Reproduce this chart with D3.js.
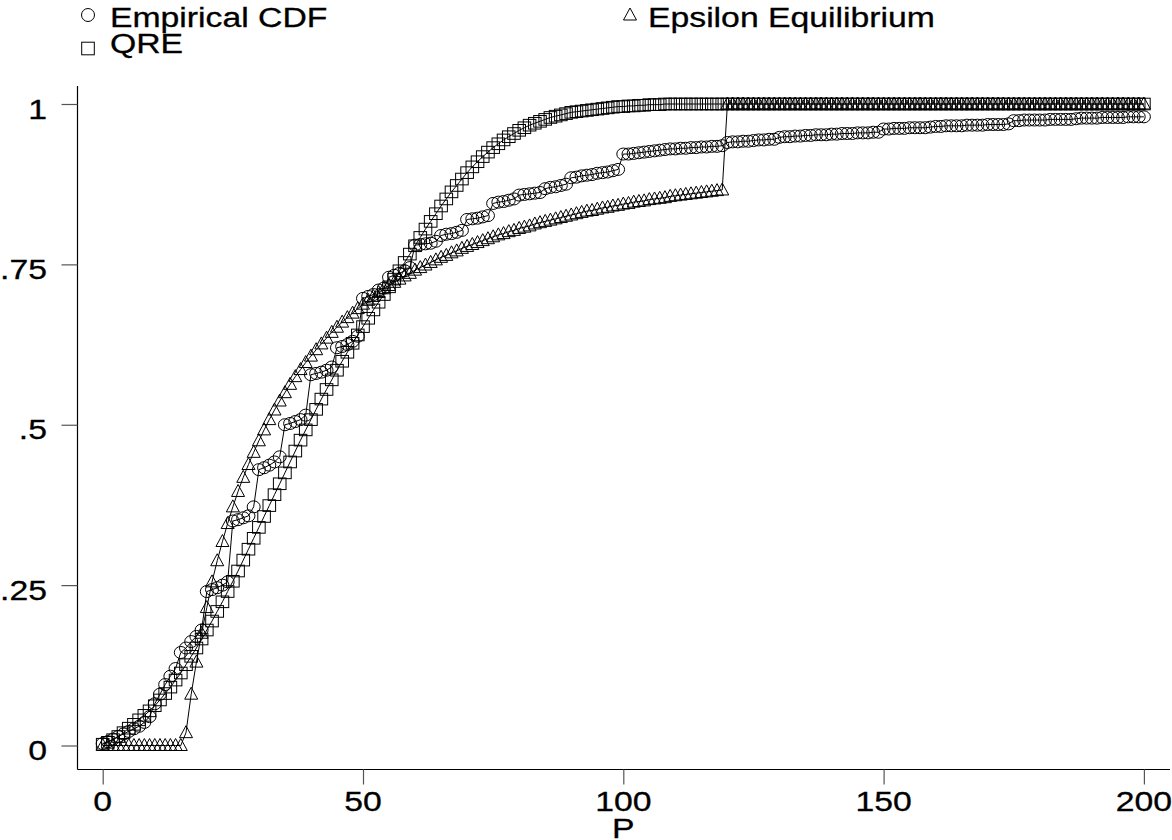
<!DOCTYPE html>
<html>
<head>
<meta charset="utf-8">
<script src="https://cdn.jsdelivr.net/npm/d3@7"></script>
<style>
  html, body { margin: 0; padding: 0; background: #fff; }
  svg { display: block; }
  text { font-family: "Liberation Sans", Arial, Helvetica, sans-serif; fill: #000; stroke: #000; stroke-width: 0.3; }
</style>
</head>
<body>
<svg id="chart" width="1172" height="840"></svg>
<script>
// ---------- data ----------
const prices = d3.range(0, 201); // P = 0 .. 200

const empiricalCDF = [
  0.003, 0.006, 0.010, 0.014, 0.018, 0.022, 0.026, 0.030, 0.036, 0.045,
  0.065, 0.080, 0.095, 0.108, 0.120, 0.145, 0.152, 0.162, 0.170, 0.180,
  0.240, 0.243, 0.246, 0.250, 0.255, 0.350, 0.352, 0.355, 0.358, 0.372,
  0.430, 0.433, 0.437, 0.442, 0.450, 0.500, 0.502, 0.505, 0.508, 0.515,
  0.578, 0.580, 0.582, 0.585, 0.590, 0.620, 0.622, 0.625, 0.630, 0.638,
  0.697, 0.700, 0.703, 0.710, 0.713, 0.730, 0.733, 0.736, 0.740, 0.745,
  0.780, 0.781, 0.782, 0.783, 0.786, 0.795, 0.797, 0.798, 0.800, 0.803,
  0.820, 0.821, 0.822, 0.824, 0.826, 0.845, 0.847, 0.848, 0.850, 0.852,
  0.858, 0.859, 0.860, 0.861, 0.862, 0.868, 0.870, 0.871, 0.873, 0.875,
  0.885, 0.886, 0.888, 0.889, 0.890, 0.892, 0.893, 0.894, 0.896, 0.898,
  0.922, 0.922, 0.923, 0.924, 0.925, 0.926, 0.927, 0.928, 0.929, 0.930,
  0.930, 0.931, 0.931, 0.932, 0.932, 0.933, 0.933, 0.934, 0.934, 0.935,
  0.940, 0.941, 0.941, 0.942, 0.942, 0.943, 0.944, 0.944, 0.945, 0.945,
  0.948, 0.949, 0.949, 0.950, 0.950, 0.951, 0.951, 0.952, 0.952, 0.952,
  0.953, 0.953, 0.954, 0.954, 0.954, 0.955, 0.955, 0.955, 0.956, 0.956,
  0.961, 0.961, 0.962, 0.962, 0.962, 0.963, 0.963, 0.963, 0.963, 0.964,
  0.965, 0.965, 0.966, 0.966, 0.966, 0.966, 0.967, 0.967, 0.967, 0.967,
  0.968, 0.968, 0.968, 0.968, 0.969, 0.974, 0.974, 0.975, 0.975, 0.975,
  0.975, 0.975, 0.976, 0.976, 0.976, 0.976, 0.976, 0.977, 0.978, 0.978,
  0.978, 0.978, 0.979, 0.979, 0.979, 0.979, 0.979, 0.980, 0.980, 0.980,
  0.980
];

const qre = [
  0.002, 0.005, 0.009, 0.014, 0.020, 0.027, 0.033, 0.040, 0.047, 0.054,
  0.062, 0.071, 0.081, 0.091, 0.102, 0.113, 0.126, 0.139, 0.152, 0.166,
  0.180, 0.194, 0.209, 0.224, 0.240, 0.256, 0.272, 0.289, 0.306, 0.323,
  0.340, 0.357, 0.374, 0.391, 0.408, 0.425, 0.442, 0.459, 0.476, 0.492,
  0.508, 0.524, 0.540, 0.555, 0.570, 0.585, 0.599, 0.613, 0.627, 0.640,
  0.653, 0.666, 0.679, 0.691, 0.703, 0.715, 0.727, 0.740, 0.753, 0.766,
  0.779, 0.792, 0.805, 0.817, 0.829, 0.841, 0.852, 0.863, 0.873, 0.883,
  0.893, 0.902, 0.910, 0.918, 0.925, 0.932, 0.938, 0.944, 0.949, 0.954,
  0.959, 0.963, 0.967, 0.970, 0.973, 0.976, 0.979, 0.981, 0.983, 0.985,
  0.987, 0.988, 0.989, 0.990, 0.991, 0.992, 0.993, 0.994, 0.995, 0.996,
  0.996, 0.997, 0.997, 0.998, 0.998, 0.999, 0.999, 0.999, 1, 1,
  1, 1, 1, 1, 1, 1, 1, 1, 1, 1,
  1, 1, 1, 1, 1, 1, 1, 1, 1, 1,
  1, 1, 1, 1, 1, 1, 1, 1, 1, 1,
  1, 1, 1, 1, 1, 1, 1, 1, 1, 1,
  1, 1, 1, 1, 1, 1, 1, 1, 1, 1,
  1, 1, 1, 1, 1, 1, 1, 1, 1, 1,
  1, 1, 1, 1, 1, 1, 1, 1, 1, 1,
  1, 1, 1, 1, 1, 1, 1, 1, 1, 1,
  1, 1, 1, 1, 1, 1, 1, 1, 1, 1,
  1
];

const epsilonEq = [
  0, 0, 0, 0, 0, 0, 0, 0, 0, 0,
  0, 0, 0, 0, 0, 0, 0.020, 0.080, 0.130, 0.175,
  0.215, 0.255, 0.288, 0.318, 0.346, 0.372, 0.396, 0.418, 0.438, 0.457,
  0.475, 0.492, 0.508, 0.523, 0.537, 0.550, 0.563, 0.575, 0.586, 0.597,
  0.607, 0.617, 0.626, 0.635, 0.644, 0.652, 0.660, 0.667, 0.674, 0.681,
  0.688, 0.694, 0.700, 0.706, 0.712, 0.717, 0.722, 0.727, 0.732, 0.736,
  0.741, 0.745, 0.749, 0.753, 0.757, 0.761, 0.764, 0.768, 0.771, 0.775,
  0.778, 0.781, 0.784, 0.787, 0.790, 0.793, 0.796, 0.798, 0.801, 0.803,
  0.806, 0.808, 0.810, 0.813, 0.815, 0.817, 0.819, 0.821, 0.823, 0.825,
  0.827, 0.829, 0.831, 0.833, 0.834, 0.836, 0.838, 0.839, 0.841, 0.842,
  0.844, 0.845, 0.847, 0.848, 0.849, 0.851, 0.852, 0.853, 0.854, 0.856,
  0.857, 0.858, 0.859, 0.860, 0.861, 0.862, 0.863, 0.864, 0.865, 0.866,
  1, 1, 1, 1, 1, 1, 1, 1, 1, 1,
  1, 1, 1, 1, 1, 1, 1, 1, 1, 1,
  1, 1, 1, 1, 1, 1, 1, 1, 1, 1,
  1, 1, 1, 1, 1, 1, 1, 1, 1, 1,
  1, 1, 1, 1, 1, 1, 1, 1, 1, 1,
  1, 1, 1, 1, 1, 1, 1, 1, 1, 1,
  1, 1, 1, 1, 1, 1, 1, 1, 1, 1,
  1, 1, 1, 1, 1, 1, 1, 1, 1, 1,
  1
];

const xTicks = [0, 50, 100, 150, 200];
const yTicks = [0, 0.25, 0.5, 0.75, 1];
const yTickLabels = ["0", ".25", ".5", ".75", "1"];
const xTitle = "P";
const legendLabels = ["Empirical CDF", "QRE", "Epsilon Equilibrium"];

// ---------- layout ----------
const svg = d3.select("#chart");
const SX = 1.25;          // horizontal stretch of the glyphs
const FS = 27;            // font size

const x = d3.scaleLinear().domain([0, 200]).range([102.7, 1143.9]);
const y = d3.scaleLinear().domain([0, 1]).range([745.5, 104]);

const axisX = 77.5, axisY = 769.5;

// axis lines
svg.append("line").attr("x1", axisX).attr("x2", axisX).attr("y1", 86).attr("y2", axisY)
  .attr("stroke", "#000").attr("stroke-width", 1.2);
svg.append("line").attr("x1", axisX).attr("x2", 1170).attr("y1", axisY).attr("y2", axisY)
  .attr("stroke", "#000").attr("stroke-width", 1.2);

// y axis ticks & labels
const gy = svg.append("g").attr("transform", `translate(${axisX},0)`)
  .call(d3.axisLeft(y).tickValues(yTicks).tickSize(16).tickSizeOuter(0).tickFormat(""));
gy.select(".domain").remove();
gy.selectAll(".tick line").attr("stroke", "#555").attr("stroke-width", 1.2);

svg.append("g").selectAll("text").data(yTicks).join("text")
  .attr("transform", d => `translate(47,${y(d) + 14.5}) scale(${SX},1)`)
  .attr("text-anchor", "end")
  .attr("font-size", FS)
  .text((d, i) => yTickLabels[i]);

// x axis ticks & labels
const gx = svg.append("g").attr("transform", `translate(0,${axisY})`)
  .call(d3.axisBottom(x).tickValues(xTicks).tickSize(15).tickSizeOuter(0).tickFormat(""));
gx.select(".domain").remove();
gx.selectAll(".tick line").attr("stroke", "#555").attr("stroke-width", 1.2);

svg.append("g").selectAll("text").data(xTicks).join("text")
  .attr("transform", d => `translate(${x(d)},811) scale(${SX},1)`)
  .attr("text-anchor", "middle")
  .attr("font-size", FS)
  .text(d => d);

svg.append("text")
  .attr("transform", `translate(${x(100)},838) scale(${SX},1)`)
  .attr("text-anchor", "middle").attr("font-size", FS)
  .text(xTitle);

// ---------- marker shapes ----------
function circleMark(g, cx, cy, rx, ry) {
  g.append("ellipse").attr("cx", cx).attr("cy", cy).attr("rx", rx).attr("ry", ry)
    .attr("fill", "none").attr("stroke", "#000").attr("stroke-width", 1);
}
function squareMark(g, cx, cy, hw, hh) {
  g.append("rect").attr("x", cx - hw).attr("y", cy - hh).attr("width", 2 * hw).attr("height", 2 * hh)
    .attr("fill", "none").attr("stroke", "#000").attr("stroke-width", 1);
}
function triMark(g, cx, cy, hw, up, down) {
  g.append("path").attr("d", `M${cx},${cy - up}L${cx + hw},${cy + down}L${cx - hw},${cy + down}Z`)
    .attr("fill", "none").attr("stroke", "#000").attr("stroke-width", 1);
}

const line = d3.line().x(d => x(d[0])).y(d => y(d[1]));

function drawSeries(values, kind) {
  const pts = prices.map((p, i) => [p, values[i]]);
  const g = svg.append("g");
  g.append("path").datum(pts).attr("d", line)
    .attr("fill", "none").attr("stroke", "#000").attr("stroke-width", 1);
  pts.forEach(d => {
    const cx = x(d[0]), cy = y(d[1]);
    if (kind === "circle") circleMark(g, cx, cy, 6.5, 6);
    else if (kind === "square") squareMark(g, cx, cy, 6.3, 5.8);
    else triMark(g, cx, cy, 6.5, 7, 5);
  });
}

drawSeries(epsilonEq, "triangle");
drawSeries(qre, "square");
drawSeries(empiricalCDF, "circle");

// ---------- legend ----------
const lg = svg.append("g");
circleMark(lg, 88, 15, 6.5, 6.5);
squareMark(lg, 88, 48.5, 6.3, 6.3);
triMark(lg, 630, 15, 6.5, 7, 5);
lg.append("text").attr("transform", `translate(110,27) scale(${SX},1)`).attr("font-size", FS).text(legendLabels[0]);
lg.append("text").attr("transform", `translate(110,53) scale(${SX},1)`).attr("font-size", FS).text(legendLabels[1]);
lg.append("text").attr("transform", `translate(648,27) scale(${SX},1)`).attr("font-size", FS).text(legendLabels[2]);
</script>
</body>
</html>
